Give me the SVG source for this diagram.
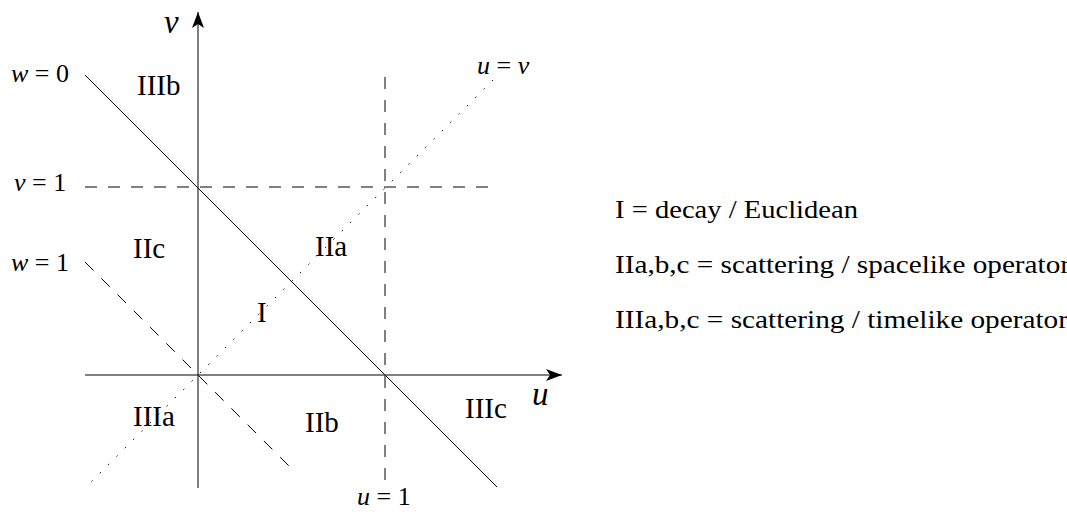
<svg xmlns="http://www.w3.org/2000/svg" width="1067" height="512" viewBox="0 0 1067 512">
<style>
.ln{stroke:#000;stroke-width:1;fill:none}
.dash{stroke-dasharray:12 11}
.dot{stroke-dasharray:1.5 10.3}
.reg{font-family:"Liberation Serif",serif;font-size:29px;fill:#000}
.lab{font-family:"Liberation Serif",serif;font-size:26px;fill:#000;word-spacing:0px}
.ax{font-family:"Liberation Serif",serif;font-size:33px;font-style:italic;fill:#000}
.leg{font-family:"Liberation Serif",serif;font-size:25px;fill:#000}
.it{font-style:italic}
</style>
<defs>
<marker id="arr" viewBox="-17 -7 19 14" refX="0" refY="0" markerWidth="19" markerHeight="14" markerUnits="userSpaceOnUse" orient="auto">
<path d="M0,0 L-16,-6 L-12,0 L-16,6 Z" fill="#000"/>
</marker>
</defs>
<rect width="1067" height="512" fill="#fff"/>
<g id="connectors">
<line id="u-axis" class="ln" x1="85" y1="375" x2="562" y2="375" marker-end="url(#arr)"/>
<line id="v-axis" class="ln" x1="198" y1="488" x2="198" y2="12" marker-end="url(#arr)"/>
<line id="w0" class="ln" x1="85" y1="75" x2="497" y2="487"/>
<line id="w1" class="ln dash" x1="85" y1="262" x2="293" y2="470"/>
<line id="uv" class="ln dot" x1="493" y1="80" x2="85" y2="488"/>
<line id="v1" class="ln dash" x1="85" y1="187" x2="496" y2="187"/>
<line id="u1" class="ln dash" x1="385" y1="77" x2="385" y2="488"/>
</g>
<g id="axis-labels">
<text class="ax" x="164" y="33">v</text>
<text class="ax" x="532" y="405">u</text>
</g>
<g id="line-labels">
<text class="lab" x="11" y="82"><tspan class="it">w</tspan> = 0</text>
<text class="lab" x="14" y="191"><tspan class="it">v</tspan> = 1</text>
<text class="lab" x="11" y="271"><tspan class="it">w</tspan> = 1</text>
<text class="lab" x="477" y="74"><tspan class="it">u</tspan> = <tspan class="it">v</tspan></text>
<text class="lab" x="357" y="505"><tspan class="it">u</tspan> = 1</text>
</g>
<g id="regions">
<text id="r-IIIb" class="reg" x="137" y="95">IIIb</text>
<text id="r-IIc" class="reg" x="133" y="258">IIc</text>
<text id="r-IIa" class="reg" x="315" y="256">IIa</text>
<text id="r-I" class="reg" x="257" y="322">I</text>
<text id="r-IIIa" class="reg" x="133" y="426">IIIa</text>
<text id="r-IIb" class="reg" x="305" y="432">IIb</text>
<text id="r-IIIc" class="reg" x="465" y="418">IIIc</text>
</g>
<g id="legend">
<text class="leg" x="615" y="218" textLength="243" lengthAdjust="spacingAndGlyphs">I = decay / Euclidean</text>
<text class="leg" x="615" y="273" textLength="455" lengthAdjust="spacingAndGlyphs">IIa,b,c = scattering / spacelike operator</text>
<text class="leg" x="615" y="328" textLength="453" lengthAdjust="spacingAndGlyphs">IIIa,b,c = scattering / timelike operator</text>
</g>
</svg>
